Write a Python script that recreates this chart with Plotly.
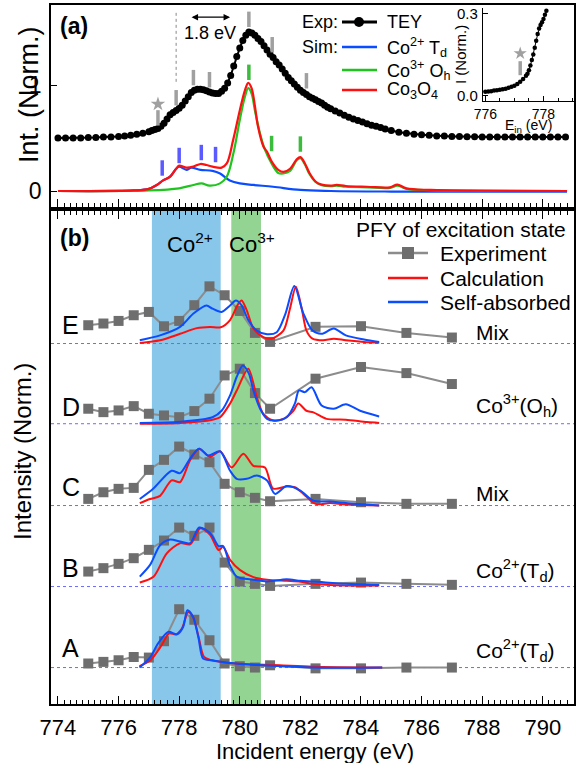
import plotly.graph_objects as go

W, H = 577, 763
FONT = "Liberation Sans, Arial, sans-serif"

# ---------------- Panel (a) data ----------------
tey_x = [774.0, 774.25, 774.5, 774.75, 775.0, 775.25, 775.5, 775.75, 776.0, 776.2, 776.4, 776.6, 776.8,
         777.0, 777.1, 777.2, 777.3, 777.4, 777.5, 777.6, 777.7, 777.8, 777.9, 778.0, 778.1, 778.2, 778.3,
         778.4, 778.5, 778.6, 778.7, 778.8, 778.9, 779.0, 779.1, 779.2, 779.3, 779.4, 779.5, 779.6, 779.7,
         779.8, 779.9, 780.0, 780.1, 780.2, 780.3, 780.4, 780.5, 780.6, 780.7, 780.8, 780.9, 781.0, 781.1,
         781.2, 781.3, 781.4, 781.5, 781.6, 781.7, 781.8, 781.9, 782.0, 782.1, 782.2, 782.3, 782.4, 782.5,
         782.6, 782.7, 782.8, 782.9, 783.0, 783.15, 783.3, 783.45, 783.6, 783.75, 783.9, 784.05, 784.2,
         784.35, 784.5, 784.65, 784.8, 785.0, 785.25, 785.5, 785.75, 786.0, 786.25, 786.5, 786.75, 787.0,
         787.25, 787.5, 787.75, 788.0, 788.25, 788.5, 788.75, 789.0, 789.25, 789.5, 789.75, 790.0, 790.25,
         790.5, 790.75]
tey_y = [0.50, 0.50, 0.50, 0.50, 0.505, 0.505, 0.51, 0.51, 0.515, 0.52, 0.525, 0.535, 0.545,
         0.56, 0.57, 0.58, 0.59, 0.61, 0.64, 0.68, 0.72, 0.74, 0.76, 0.78, 0.81, 0.85, 0.89,
         0.93, 0.95, 0.96, 0.96, 0.955, 0.945, 0.935, 0.925, 0.92, 0.92, 0.94, 0.97, 1.02, 1.09,
         1.18, 1.27, 1.35, 1.42, 1.47, 1.50, 1.49, 1.47, 1.44, 1.41, 1.37, 1.33, 1.29, 1.26,
         1.22, 1.19, 1.15, 1.11, 1.07, 1.04, 1.01, 0.98, 0.95, 0.93, 0.91, 0.89, 0.875, 0.86,
         0.845, 0.83, 0.81, 0.79, 0.775, 0.755, 0.735, 0.715, 0.695, 0.68, 0.665, 0.65, 0.635,
         0.62, 0.61, 0.60, 0.585, 0.57, 0.555, 0.545, 0.535, 0.53, 0.525, 0.52, 0.52, 0.515,
         0.515, 0.512, 0.512, 0.51, 0.51, 0.51, 0.51, 0.51, 0.51, 0.51, 0.51, 0.51, 0.51,
         0.51, 0.51]

sim_co3o4_x = [774.0, 776.5, 777.0, 777.26, 777.47, 777.7, 777.9, 778.0, 778.24, 778.47, 778.7, 778.9, 779.1,
               779.4, 779.57, 779.78, 780.0, 780.17, 780.28, 780.39, 780.5, 780.6, 780.78, 780.9, 781.05,
               781.27, 781.44, 781.66, 781.88, 782.0, 782.15, 782.3, 782.5, 782.7, 783.0, 783.2, 783.5,
               784.2, 784.96, 785.2, 785.5, 786.3, 787.9, 790.8]
sim_co3o4_y = [0.0, 0.005, 0.02, 0.057, 0.10, 0.135, 0.21, 0.24, 0.22, 0.23, 0.255, 0.245, 0.23,
               0.22, 0.26, 0.48, 0.76, 0.95, 1.02, 0.97, 0.80, 0.61, 0.42, 0.37, 0.28,
               0.20, 0.18, 0.21, 0.30, 0.32, 0.26, 0.17, 0.09, 0.06, 0.05, 0.057, 0.047,
               0.04, 0.035, 0.06, 0.025, 0.01, 0.003, 0.0]

sim_co3_x = [774.0, 777.0, 778.0, 778.47, 778.74, 779.0, 779.35, 779.57, 779.79, 780.0, 780.17, 780.28,
             780.39, 780.5, 780.67, 780.83, 781.05, 781.27, 781.44, 781.66, 781.88, 782.0, 782.15, 782.3,
             782.5, 782.7, 783.0, 783.2, 783.5, 784.2, 784.96, 785.2, 785.5, 786.3, 787.9, 790.8]
sim_co3_y = [0.0, 0.005, 0.025, 0.057, 0.072, 0.05, 0.072, 0.135, 0.355, 0.67, 0.89, 0.97,
             0.92, 0.76, 0.54, 0.39, 0.26, 0.17, 0.165, 0.19, 0.29, 0.31, 0.25, 0.16,
             0.085, 0.055, 0.045, 0.05, 0.04, 0.035, 0.03, 0.05, 0.02, 0.008, 0.002, 0.0]

sim_co2_x = [774.0, 776.5, 777.0, 777.26, 777.47, 777.7, 777.9, 778.0, 778.24, 778.4, 778.7, 779.1,
             779.35, 779.67, 780.0, 780.45, 781.1, 782.0, 783.0, 785.0, 788.0, 790.8]
sim_co2_y = [0.0, 0.005, 0.02, 0.057, 0.10, 0.135, 0.21, 0.23, 0.20, 0.22, 0.20, 0.19,
             0.165, 0.10, 0.072, 0.057, 0.04, 0.01, 0.0, -0.005, -0.005, -0.005]

# peak markers in panel (a)
exp_tick_x = [777.3, 777.9, 778.47, 779.0, 780.3, 781.07, 782.2]
exp_tick_y = [0.69, 0.88, 1.07, 1.05, 1.62, 1.38, 1.04]
co2_tick_x = [777.44, 778.0, 778.73, 779.2]
co2_tick_y = [0.217, 0.335, 0.363, 0.344]
co3_tick_x = [780.3, 781.05, 782.0]
co3_tick_y = [1.12, 0.448, 0.443]
star_x = [777.3]
star_y = [0.82]
ref_line_x = 777.9
ref_line_y = [1.03, 1.69]
arrow_x = [778.36, 779.68]
arrow_y = 1.64

# inset data
inset_x = [776.0, 776.1, 776.2, 776.3, 776.4, 776.5, 776.6, 776.7, 776.8, 776.9, 777.0, 777.1, 777.2,
           777.3, 777.4, 777.45, 777.5, 777.55, 777.6, 777.65, 777.7, 777.75, 777.8, 777.85, 777.9,
           777.95, 778.0, 778.05, 778.1]
inset_y = [0.014, 0.015, 0.016, 0.018, 0.019, 0.021, 0.023, 0.025, 0.028, 0.032, 0.036, 0.042, 0.05,
           0.06, 0.072, 0.08, 0.092, 0.11, 0.13, 0.15, 0.175, 0.2, 0.225, 0.245, 0.258,
           0.268, 0.28, 0.295, 0.31]
inset_star = [777.2, 0.154]
inset_tick = [777.2, 0.10]

# ---------------- Panel (b) data ----------------
rows = ["A", "B", "C", "D", "E"]
offsets = [0.45, 1.45, 2.45, 3.46, 4.45]
row_labels = ["Co<sup>2+</sup>(T<sub>d</sub>)", "Co<sup>2+</sup>(T<sub>d</sub>)", "Mix",
              "Co<sup>3+</sup>(O<sub>h</sub>)", "Mix"]

exp_x = [775, 775.5, 776, 776.5, 777, 777.5, 778, 778.5, 779, 779.5, 780, 780.5, 781, 782.5, 784, 785.5, 787]
exp_A = [0.05, 0.07, 0.09, 0.13, 0.123, 0.325, 0.72, 0.59, 0.337, 0.05, 0.016, 0.0, 0.028, -0.01, -0.01, 0.0, 0.0]
exp_B = [0.185, 0.227, 0.28, 0.35, 0.453, 0.568, 0.728, 0.626, 0.728, 0.296, 0.062, 0.033, 0.008, 0.033, 0.049, 0.033, 0.021]
exp_C = [0.082, 0.164, 0.206, 0.218, 0.44, 0.564, 0.728, 0.63, 0.535, 0.268, 0.164, 0.095, 0.053, 0.082, 0.041, 0.021, 0.021]
exp_D = [0.185, 0.143, 0.164, 0.217, 0.123, 0.102, 0.081, 0.156, 0.309, 0.596, 0.679, 0.378, 0.185, 0.556, 0.70, 0.625, 0.49]
exp_E = [0.226, 0.247, 0.279, 0.349, 0.390, 0.213, 0.279, 0.473, 0.706, 0.596, 0.402, 0.131, 0.020, 0.206, 0.214, 0.131, 0.074]

calc_A_x = [776.69, 777.05, 777.42, 777.66, 777.9, 778.09, 778.3, 778.46, 778.64, 778.82, 779.07, 779.37,
            779.86, 780.6, 781.3, 782.4, 784.7]
calc_A = [0.016, 0.09, 0.275, 0.42, 0.41, 0.48, 0.686, 0.625, 0.38, 0.13, 0.09, 0.07, 0.05, 0.037, 0.028, 0.01, 0.0]
self_A_x = [776.69, 777.05, 777.3, 777.64, 777.93, 778.13, 778.27, 778.46, 778.64, 778.79, 779.07, 779.62,
            780.6, 782.4, 784.7]
self_A = [0.0, 0.13, 0.296, 0.44, 0.41, 0.50, 0.707, 0.625, 0.36, 0.11, 0.09, 0.06, 0.03, 0.0, 0.0]

calc_B_x = [776.7, 777.15, 777.59, 778.03, 778.36, 778.7, 779.02, 779.3, 779.45, 779.68, 780.0, 780.45,
            780.9, 781.55, 782.0, 782.43, 783.5, 784.6]
calc_B = [0.05, 0.12, 0.41, 0.535, 0.52, 0.72, 0.64, 0.45, 0.49, 0.33, 0.206, 0.116, 0.083, 0.07, 0.06, 0.033, 0.012, 0.012]
self_B_x = [776.7, 777.04, 777.37, 777.7, 778.03, 778.36, 778.66, 779.02, 779.3, 779.45, 779.68, 779.9,
            780.45, 780.9, 781.55, 782.0, 782.43, 783.5, 784.6]
self_B = [0.123, 0.267, 0.51, 0.58, 0.555, 0.535, 0.728, 0.66, 0.50, 0.50, 0.26, 0.123, 0.083, 0.062, 0.09, 0.07, 0.062, 0.033, 0.02]

calc_C_x = [776.7, 777.04, 777.37, 777.75, 778.03, 778.36, 778.66, 779.02, 779.35, 779.73, 780.12, 780.45,
            780.83, 781.1, 781.55, 781.82, 782.1, 782.5, 782.98, 783.5, 784.6]
calc_C = [0.03, 0.08, 0.12, 0.31, 0.29, 0.56, 0.70, 0.60, 0.67, 0.47, 0.64, 0.49, 0.47, 0.21, 0.235, 0.226,
          0.144, 0.02, 0.03, 0.012, 0.0]
self_C_x = [776.7, 777.15, 777.75, 778.03, 778.36, 778.66, 778.96, 779.35, 779.68, 779.9, 780.23, 780.56,
            780.9, 781.16, 781.55, 782.0, 782.43, 782.98, 783.5, 784.6]
self_C = [0.08, 0.21, 0.43, 0.40, 0.58, 0.70, 0.617, 0.67, 0.43, 0.33, 0.33, 0.37, 0.31, 0.144, 0.24, 0.185,
          0.06, 0.05, 0.03, 0.0]

calc_D_x = [776.7, 778.03, 779.1, 779.35, 779.68, 779.9, 780.28, 780.56, 780.78, 781.1, 781.44, 781.77,
            781.93, 782.2, 782.43, 782.86, 783.5, 784.2, 784.6]
calc_D = [0.0, 0.01, 0.05, 0.08, 0.25, 0.41, 0.68, 0.33, 0.12, 0.04, 0.06, 0.16, 0.25, 0.16, 0.14, 0.06,
          0.05, 0.02, 0.01]
self_D_x = [776.7, 778.03, 779.1, 779.4, 779.68, 779.9, 780.1, 780.3, 780.45, 780.67, 780.9, 781.2, 781.55,
            781.82, 781.95, 782.15, 782.37, 782.7, 783.1, 783.5, 783.97, 784.6]
self_D = [0.01, 0.025, 0.08, 0.16, 0.35, 0.58, 0.72, 0.62, 0.41, 0.185, 0.06, 0.04, 0.08, 0.25, 0.41, 0.39,
          0.45, 0.225, 0.185, 0.24, 0.16, 0.09]

calc_E_x = [776.7, 777.37, 778.03, 778.58, 779.02, 779.37, 779.68, 779.95, 780.06, 780.23, 780.45, 780.78,
            781.05, 781.44, 781.65, 781.85, 782.05, 782.2, 782.4, 782.75, 783.1, 783.5, 784.1, 784.6]
calc_E = [0.007, 0.04, 0.12, 0.19, 0.205, 0.20, 0.29, 0.49, 0.53, 0.41, 0.185, 0.08, 0.06, 0.16, 0.42, 0.70,
          0.42, 0.16, 0.06, 0.04, 0.06, 0.04, 0.02, 0.01]
self_E_x = [776.7, 777.37, 778.03, 778.47, 778.9, 779.1, 779.4, 779.68, 779.87, 780.06, 780.28, 780.56, 780.9,
            781.22, 781.5, 781.8, 782.1, 782.4, 782.7, 783.1, 783.5, 784.1, 784.6]
self_E = [0.04, 0.10, 0.205, 0.37, 0.47, 0.43, 0.39, 0.47, 0.53, 0.47, 0.29, 0.16, 0.115, 0.14, 0.36, 0.71,
          0.37, 0.16, 0.12, 0.185, 0.10, 0.05, 0.02]

exp_rows = [exp_A, exp_B, exp_C, exp_D, exp_E]
calc_rows = [(calc_A_x, calc_A), (calc_B_x, calc_B), (calc_C_x, calc_C), (calc_D_x, calc_D), (calc_E_x, calc_E)]
self_rows = [(self_A_x, self_A), (self_B_x, self_B), (self_C_x, self_C), (self_D_x, self_D), (self_E_x, self_E)]

co2_band = [777.1, 779.37]
co3_band = [779.72, 780.7]

x_major = [774, 776, 778, 780, 782, 784, 786, 788, 790]
x_mid = [775, 777, 779, 781, 783, 785, 787, 789, 791]

# colors
RED = "#ff1010"
GREEN = "#1fc41f"
BLUE = "#0a4cff"
GREY_SQ = "#6e6e6e"
GREY_LN = "#8c8c8c"


def px(x):
    return x / W


def py(y):
    return 1 - y / H


fig = go.Figure()

# ---- panel (a) traces ----
fig.add_trace(go.Scatter(x=sim_co2_x, y=sim_co2_y, mode="lines", line=dict(color=BLUE, width=2.2, shape="spline"),
                         xaxis="x", yaxis="y", showlegend=False))
fig.add_trace(go.Scatter(x=sim_co3_x, y=sim_co3_y, mode="lines", line=dict(color=GREEN, width=2.2, shape="spline"),
                         xaxis="x", yaxis="y", showlegend=False))
fig.add_trace(go.Scatter(x=sim_co3o4_x, y=sim_co3o4_y, mode="lines", line=dict(color=RED, width=2.2, shape="spline"),
                         xaxis="x", yaxis="y", showlegend=False))
fig.add_trace(go.Scatter(x=tey_x, y=tey_y, mode="lines+markers", line=dict(color="black", width=2),
                         marker=dict(color="black", size=7), xaxis="x", yaxis="y", showlegend=False))
for tx, ty, col in [(exp_tick_x, exp_tick_y, "#a0a0a0"), (co2_tick_x, co2_tick_y, "#5a5aff"),
                    (co3_tick_x, co3_tick_y, "#3cbc3c")]:
    fig.add_trace(go.Scatter(x=tx, y=ty, mode="markers",
                             marker=dict(symbol="line-ns", size=11, line=dict(color=col, width=3.5)),
                             xaxis="x", yaxis="y", showlegend=False))
fig.add_trace(go.Scatter(x=star_x, y=star_y, mode="markers",
                         marker=dict(symbol="star", size=11, color="#a0a0a0"), xaxis="x", yaxis="y", showlegend=False))

# ---- inset ----
fig.add_trace(go.Scatter(x=inset_x, y=inset_y, mode="lines+markers", line=dict(color="black", width=1),
                         marker=dict(color="black", size=4.5), xaxis="x3", yaxis="y3", showlegend=False))
fig.add_trace(go.Scatter(x=[inset_star[0]], y=[inset_star[1]], mode="markers",
                         marker=dict(symbol="star", size=10, color="#a0a0a0"), xaxis="x3", yaxis="y3",
                         showlegend=False))
fig.add_trace(go.Scatter(x=[inset_tick[0]], y=[inset_tick[1]], mode="markers",
                         marker=dict(symbol="line-ns", size=10, line=dict(color="#a0a0a0", width=3.5)),
                         xaxis="x3", yaxis="y3", showlegend=False))

# ---- panel (b) traces ----
for i, r in enumerate(rows):
    off = offsets[i]
    fig.add_trace(go.Scatter(x=exp_x, y=[v + off for v in exp_rows[i]], mode="lines+markers",
                             line=dict(color=GREY_LN, width=2),
                             marker=dict(symbol="square", size=10, color=GREY_SQ),
                             xaxis="x2", yaxis="y2", showlegend=False))
    cx, cy = calc_rows[i]
    fig.add_trace(go.Scatter(x=cx, y=[v + off for v in cy], mode="lines",
                             line=dict(color=RED, width=2, shape="spline", smoothing=0.8),
                             xaxis="x2", yaxis="y2", showlegend=False))
    sx, sy = self_rows[i]
    fig.add_trace(go.Scatter(x=sx, y=[v + off for v in sy], mode="lines",
                             line=dict(color=BLUE, width=2, shape="spline", smoothing=0.8),
                             xaxis="x2", yaxis="y2", showlegend=False))

shapes = []
# bands
shapes.append(dict(type="rect", xref="x2", yref="y2 domain", x0=co2_band[0], x1=co2_band[1], y0=0, y1=1,
                   fillcolor="#88c6ea", line=dict(width=0), layer="below"))
shapes.append(dict(type="rect", xref="x2", yref="y2 domain", x0=co3_band[0], x1=co3_band[1], y0=0, y1=1,
                   fillcolor="#93d493", line=dict(width=0), layer="below"))
# baselines
for off in offsets:
    shapes.append(dict(type="line", xref="x2 domain", yref="y2", x0=0, x1=1, y0=off, y1=off,
                       line=dict(color="#6b6bff", width=1, dash="dot"), layer="below"))
# reference dotted line in (a)
shapes.append(dict(type="line", xref="x", yref="y", x0=ref_line_x, x1=ref_line_x, y0=ref_line_y[0],
                   y1=ref_line_y[1], line=dict(color="#888888", width=1, dash="dot")))

# legend (a) samples
leg_a_rows = [22, 47, 70, 90]
leg_a_cols = ["black", BLUE, GREEN, RED]
for yy, col in zip(leg_a_rows, leg_a_cols):
    shapes.append(dict(type="line", xref="paper", yref="paper", x0=px(342), x1=px(377), y0=py(yy), y1=py(yy),
                       line=dict(color=col, width=3 if col == "black" else 2.5)))
shapes.append(dict(type="circle", xref="paper", yref="paper", x0=px(354), x1=px(364), y0=py(27), y1=py(17),
                   fillcolor="black", line=dict(color="black", width=0)))

# legend (b) samples
leg_b_rows = [253, 278, 302]
leg_b_cols = [GREY_LN, RED, BLUE]
for yy, col in zip(leg_b_rows, leg_b_cols):
    shapes.append(dict(type="line", xref="paper", yref="paper", x0=px(388), x1=px(428), y0=py(yy), y1=py(yy),
                       line=dict(color=col, width=2.5)))
shapes.append(dict(type="rect", xref="paper", yref="paper", x0=px(402), x1=px(414), y0=py(259), y1=py(247),
                   fillcolor=GREY_SQ, line=dict(width=0)))

ann = []


def text(x, y, s, size, xanchor="center", bold=False, angle=0, color="black"):
    ann.append(dict(x=px(x), y=py(y), xref="paper", yref="paper", text=("<b>%s</b>" % s) if bold else s,
                    showarrow=False, xanchor=xanchor, yanchor="middle", textangle=angle,
                    font=dict(family=FONT, size=size, color=color)))


# panel a texts
text(58, 26, "(a)", 23, xanchor="left", bold=True)
text(210, 33, "1.8 eV", 18)
text(340, 22, "Exp:", 18, xanchor="right")
text(340, 47, "Sim:", 18, xanchor="right")
text(385, 22, "TEY", 18, xanchor="left")
text(385, 47, "Co<sup>2+</sup> T<sub>d</sub>", 18, xanchor="left")
text(385, 70, "Co<sup>3+</sup> O<sub>h</sub>", 18, xanchor="left")
text(385, 90, "Co<sub>3</sub>O<sub>4</sub>", 18, xanchor="left")
text(29, 95, "Int. (Norm.)", 27, angle=-90)
# inset texts
text(528, 126, "E<sub>in</sub> (eV)", 14)
text(461, 55, "I (Norm.)", 15, angle=-90)

# panel b texts
text(58, 238, "(b)", 23, xanchor="left", bold=True)
text(190, 243, "Co<sup>2+</sup>", 22)
text(252, 243, "Co<sup>3+</sup>", 22)
text(568, 230, "PFY of excitation state", 21, xanchor="right")
text(438, 253, "Experiment", 21, xanchor="left")
text(438, 278, "Calculation", 21, xanchor="left")
text(438, 302, "Self-absorbed", 21, xanchor="left")
letter_y = [648, 568, 487, 407, 325]
label_y = [650, 570, 493, 405, 333]
for i, r in enumerate(rows):
    text(60, letter_y[i], r, 25, xanchor="left")
    text(474, label_y[i], row_labels[i], 21, xanchor="left")
text(22, 452, "Intensity (Norm.)", 24, angle=-90)
text(315, 751, "Incident energy (eV)", 22)

# arrow
ann.append(dict(x=arrow_x[1], y=arrow_y, ax=arrow_x[0], ay=arrow_y, xref="x", yref="y", axref="x", ayref="y",
                text="", showarrow=True, arrowhead=2, startarrowhead=2, arrowside="end+start",
                arrowsize=1, arrowwidth=1.3, arrowcolor="black"))

axis_common = dict(showline=True, linecolor="black", linewidth=1.5, showgrid=False, zeroline=False)
minor_ticks = dict(dtick=0.2, tick0=774, ticks="inside", ticklen=4, tickcolor="black")

xr = [773.77, 791.03]
dom_x = [px(51), px(574)]
dom_a = [py(207), py(5)]
dom_b = [py(704), py(211)]
fig.update_layout(
    width=W, height=H, margin=dict(l=0, r=0, t=0, b=0, autoexpand=False),
    paper_bgcolor="white", plot_bgcolor="white",
    font=dict(family=FONT, color="black"),
    xaxis=dict(domain=dom_x, range=xr, anchor="y", tickvals=x_major, showticklabels=False,
               ticks="inside", ticklen=8, tickcolor="black", mirror=True, minor=minor_ticks, **axis_common),
    yaxis=dict(domain=dom_a, range=[-0.151, 1.755], anchor="x", tickvals=[0, 1], ticktext=["0", "1"],
               ticks="inside", ticklen=6, tickcolor="black", mirror=True, tickfont=dict(size=23),
               ticklabelstandoff=3, **axis_common),
    xaxis2=dict(domain=dom_x, range=xr, anchor="y2", tickvals=x_major,
                ticks="inside", ticklen=8, tickcolor="black", mirror="ticks", tickfont=dict(size=22),
                ticklabelstandoff=3, minor=minor_ticks, **axis_common),
    yaxis2=dict(domain=dom_b, range=[0, 6.086], anchor="x2", showticklabels=False, ticks="",
                mirror=True, **axis_common),
    xaxis3=dict(domain=[px(483), px(574)], range=[775.92, 779.05], anchor="y3", tickvals=[776, 778],
                ticks="inside", ticklen=5, tickcolor="black", tickfont=dict(size=14), ticklabelstandoff=0,
                minor=dict(dtick=0.5, tick0=776, ticks="inside", ticklen=3, tickcolor="black"),
                showline=True, linecolor="black", linewidth=1.2, showgrid=False, zeroline=False),
    yaxis3=dict(domain=[py(101), py(8)], range=[-0.02, 0.32], anchor="x3", tickvals=[0, 0.3],
                ticktext=["0.0", "0.3"], ticks="inside", ticklen=5, tickcolor="black", tickfont=dict(size=15),
                ticklabelstandoff=1, showline=True, linecolor="black", linewidth=1.2, showgrid=False,
                zeroline=False),
    # extra unlabeled axes carrying the 1-eV intermediate ticks
    xaxis4=dict(overlaying="x", domain=dom_x, range=xr, anchor="y", tickvals=x_mid, showticklabels=False,
                ticks="inside", ticklen=6, tickcolor="black", **axis_common),
    xaxis5=dict(overlaying="x2", domain=dom_x, range=xr, anchor="y2", tickvals=x_mid, showticklabels=False,
                ticks="inside", ticklen=6, tickcolor="black", mirror="ticks", **axis_common),
    shapes=shapes, annotations=ann,
)

fig.write_html("out.html", config={"displayModeBar": False},
               post_script="document.body.style.margin='0px';document.body.style.overflow='hidden';")
